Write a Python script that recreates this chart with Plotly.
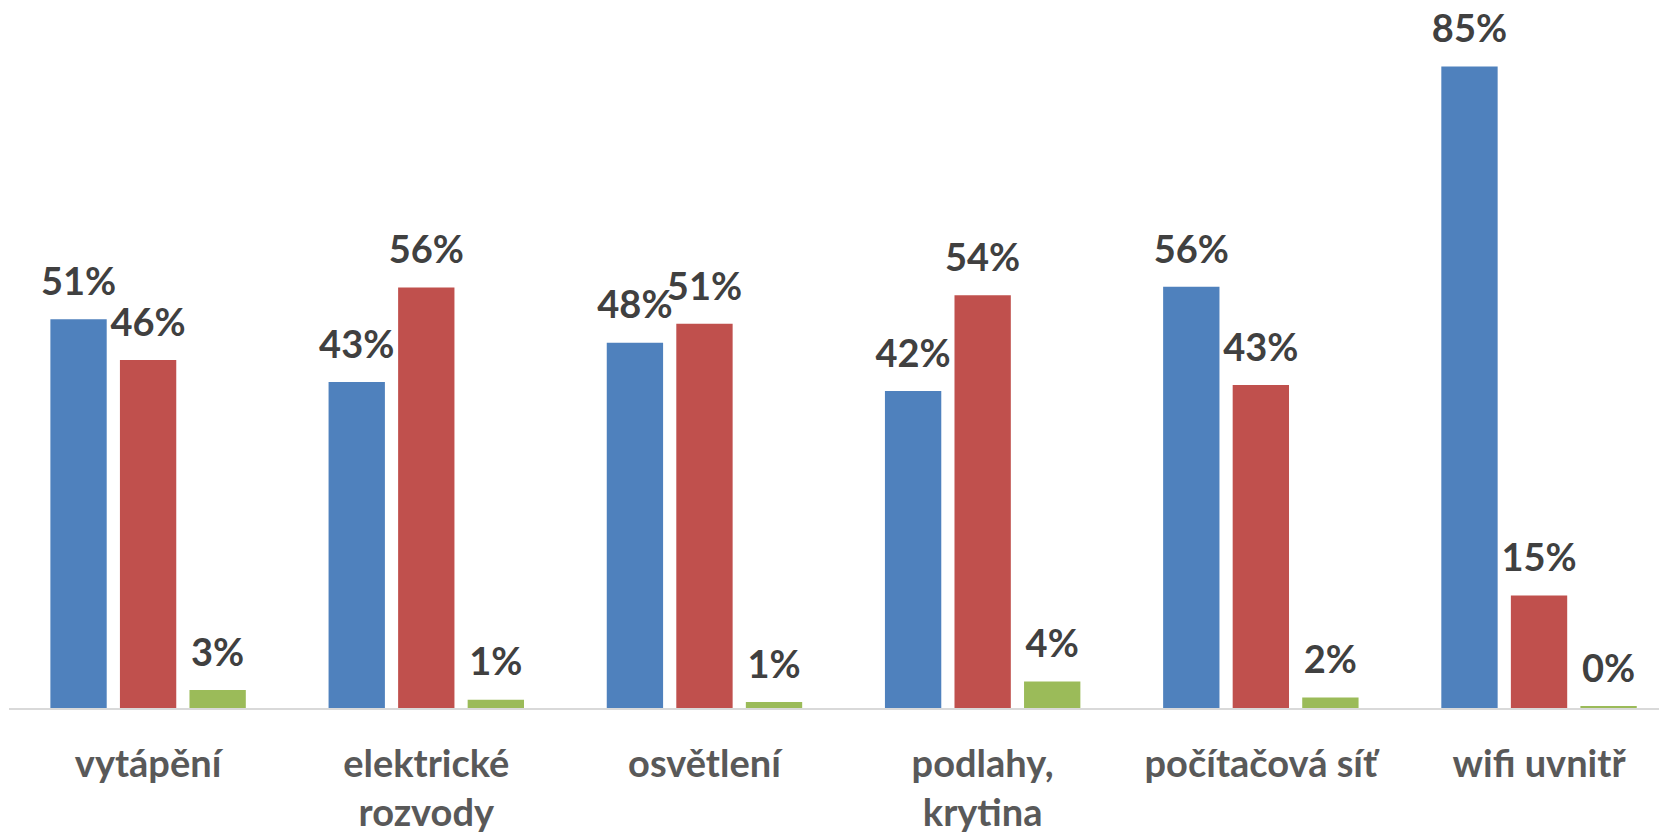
import plotly.graph_objects as go

categories = ["vytápění", "elektrické<br>rozvody", "osvětlení", "podlahy,<br>krytina", "počítačová síť", "wifi uvnitř"]
# values (percent)
series_a = [51.5, 43.2, 48.4, 42.0, 55.8, 85.0]
series_b = [46.1, 55.7, 50.9, 54.7, 42.8, 14.9]
series_c = [2.4, 1.1, 0.8, 3.5, 1.4, 0.25]
# data-label texts as printed on the chart
labels_a = ["51%", "43%", "48%", "42%", "56%", "85%"]
labels_b = ["46%", "56%", "51%", "54%", "43%", "15%"]
labels_c = ["3%", "1%", "1%", "4%", "2%", "0%"]

colors = ["#4F81BD", "#C0504D", "#9BBB59"]
all_series = [series_a, series_b, series_c]
all_labels = [labels_a, labels_b, labels_c]

fig = go.Figure()
for vals, col in zip(all_series, colors):
    fig.add_trace(go.Bar(
        x=categories, y=vals, marker=dict(color=col, line=dict(width=0)),
        showlegend=False, hoverinfo="skip",
    ))
for i, (vals, labs) in enumerate(zip(all_series, all_labels)):
    fig.add_trace(go.Scatter(
        x=categories, y=vals, mode="markers+text",
        text=labs, textposition="top center",
        textfont=dict(family="Lato", size=38, color="#404040", weight="bold"),
        marker=dict(size=22, color="rgba(0,0,0,0)"),
        offsetgroup=str(i), alignmentgroup="a",
        showlegend=False, hoverinfo="skip", cliponaxis=False,
    ))

fig.update_layout(
    width=1659, height=827,
    margin=dict(l=1, r=0, t=20, b=127, autoexpand=False),
    paper_bgcolor="white", plot_bgcolor="white",
    barmode="group", bargap=0.25, bargroupgap=0.19,
    scattermode="group", scattergap=0.25,
    showlegend=False,
)
fig.update_xaxes(
    range=[-0.5, 5.46], showgrid=False, showline=True, linecolor="#D9D9D9", linewidth=2,
    ticks="", tickfont=dict(family="Lato", size=38, color="#595959", weight="bold"),
    ticklabelstandoff=21, automargin=False,
)
fig.update_yaxes(range=[0, 90.1], visible=False, showgrid=False, zeroline=False, automargin=False)

fig.write_html("out.html")
